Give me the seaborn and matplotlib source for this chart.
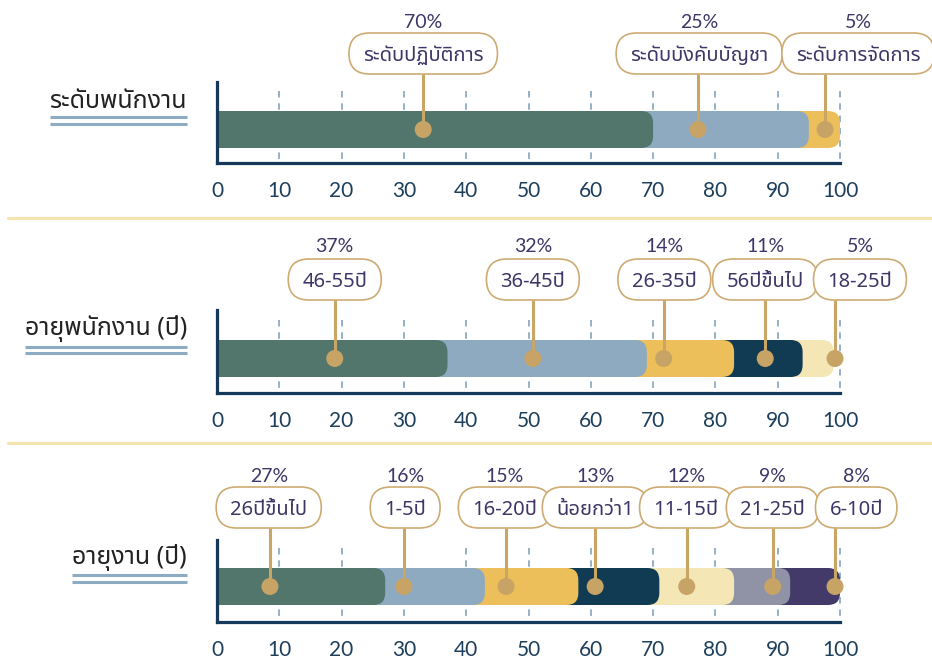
import matplotlib
matplotlib.use("Agg")
import numpy as np
import pandas as pd
import seaborn as sns
import matplotlib.pyplot as plt
from matplotlib import font_manager as fm
from matplotlib.ft2font import FT2Font
from matplotlib.patches import FancyBboxPatch
from matplotlib.lines import Line2D
from matplotlib.transforms import IdentityTransform

# ---------------- data ----------------
panel_titles = ["ระดับพนักงาน", "อายุพนักงาน (ปี)", "อายุงาน (ปี)"]

p1_labels = ["ระดับปฏิบัติการ", "ระดับบังคับบัญชา", "ระดับการจัดการ"]
p1_values = [70, 25, 5]
p1_marks = [33.1, 77.2, 97.6]
p1_label_x = [33.1, 77.4, 102.9]

p2_labels = ["46-55ปี", "36-45ปี", "26-35ปี", "56ปีขึ้นไป", "18-25ปี"]
p2_values = [37, 32, 14, 11, 5]
p2_marks = [18.9, 50.7, 71.7, 88.0, 99.2]
p2_label_x = [18.9, 50.7, 71.8, 88.0, 103.2]

p3_labels = ["26ปีขึ้นไป", "1-5ปี", "16-20ปี", "น้อยกว่า1", "11-15ปี", "21-25ปี", "6-10ปี"]
p3_values = [27, 16, 15, 13, 12, 9, 8]
p3_marks = [8.5, 30.0, 46.4, 60.7, 75.4, 89.2, 99.2]
p3_label_x = [8.3, 30.2, 46.2, 60.7, 75.3, 89.2, 102.6]

x_ticks = [0, 10, 20, 30, 40, 50, 60, 70, 80, 90, 100]

# ---------------- style ----------------
seg_colors = ["#52766c", "#8daac1", "#edbf5a", "#113a53", "#f4e6b5", "#8f93a5", "#433a69"]
TAN = "#c8a366"
NAVY = "#14395a"
GRID = "#8eabc4"
TXT = "#3d3667"

sns.set_style("white")


def find_thai():
    pref = ["Noto Sans Thai", "Noto Sans Thai Looped", "Sarabun", "Prompt", "Kanit",
            "Loma", "Garuda", "Anuphan", "IBM Plex Sans Thai"]
    found = set()
    for f in fm.fontManager.ttflist:
        try:
            cm = FT2Font(f.fname).get_charmap()
            if 0x0E01 in cm and 0x0E35 in cm:
                found.add(f.name)
        except Exception:
            pass
    for p in pref:
        if p in found:
            return p
    return sorted(found)[0] if found else None


thai = find_thai()
LAT = "Lato"
FAM = ([thai] if thai else []) + [LAT, "DejaVu Sans"]
FAM_T = ([thai] if thai else []) + ["DejaVu Sans"]
plt.rcParams["font.family"] = FAM

W, H = 932, 659
fig = plt.figure(figsize=(W / 100, H / 100), dpi=100)
fig.patch.set_facecolor("white")
ID = IdentityTransform()

AX_L, AX_R = 217, 840
panels = [
    dict(title=panel_titles[0], labels=p1_labels, values=p1_values, marks=p1_marks, lx=p1_label_x,
         top=82, bottom=163, bar_top=111, bar_bot=148, grid_top=91,
         pct_y=22, box_y=53.5, title_base=108, ul=(117, 124)),
    dict(title=panel_titles[1], labels=p2_labels, values=p2_values, marks=p2_marks, lx=p2_label_x,
         top=310, bottom=393, bar_top=340, bar_bot=377, grid_top=320,
         pct_y=247, box_y=279.5, title_base=335, ul=(347, 353)),
    dict(title=panel_titles[2], labels=p3_labels, values=p3_values, marks=p3_marks, lx=p3_label_x,
         top=540, bottom=622, bar_top=568, bar_bot=605, grid_top=548,
         pct_y=477, box_y=507.5, title_base=564, ul=(575, 582)),
]

renderer = fig.canvas.get_renderer()
BAR_W = 0.8
R_PX = 12

for P in panels:
    ax = fig.add_axes([AX_L / W, 1 - P["bottom"] / H, (AX_R - AX_L) / W, (P["bottom"] - P["top"]) / H])
    ax.set_facecolor("none")
    vals = np.array(P["values"], dtype=float)
    cum = np.cumsum(vals)
    n = len(vals)
    cols = seg_colors[:n]
    df = pd.DataFrame({"seg": P["labels"], "end": cum, "row": ["r"] * n})
    for i in range(n - 1, -1, -1):
        sns.barplot(data=df.iloc[[i]], x="end", y="row", orient="h", color=cols[i],
                    saturation=1, width=BAR_W, ax=ax, errorbar=None)
    bc = (P["bar_top"] + P["bar_bot"]) / 2
    ppu_y = (P["bar_bot"] - P["bar_top"]) / BAR_W
    ppu_x = (AX_R - AX_L) / 100.0
    ybot = (P["bottom"] - bc) / ppu_y
    ytop = -(bc - P["top"]) / ppu_y
    ax.set_xlim(0, 100)
    ax.set_ylim(ybot, ytop)
    # replace rectangles by right-rounded bars
    rects = list(ax.patches)
    r_x = R_PX / ppu_x
    aspect = ppu_x / ppu_y
    for k, p in enumerate(rects):
        x0, y0, w, h = p.get_x(), p.get_y(), p.get_width(), p.get_height()
        fc = p.get_facecolor()
        p.remove()
        fb = FancyBboxPatch((x0 - r_x, y0), w + r_x, h,
                            boxstyle=f"round,pad=0,rounding_size={r_x}",
                            mutation_aspect=aspect, fc=fc, ec="none", zorder=2 + k * 0.01)
        ax.add_patch(fb)
    gtop = -(bc - P["grid_top"]) / ppu_y
    ax.vlines(x_ticks[1:], gtop, ybot, colors=GRID, linewidth=1.3,
              linestyles=(0, (3.6, 3.2)), zorder=1, clip_on=False)
    for s in ["top", "right"]:
        ax.spines[s].set_visible(False)
    for s in ["left", "bottom"]:
        ax.spines[s].set_color(NAVY)
        ax.spines[s].set_linewidth(2.3)
        ax.spines[s].set_zorder(6)
    ax.set_xticks(x_ticks)
    ax.set_xticklabels([str(t) for t in x_ticks], fontfamily=[LAT, "DejaVu Sans"])
    ax.tick_params(axis="x", length=0, pad=13, labelsize=15, labelcolor="#1d3f5c")
    ax.set_yticks([])
    ax.set_xlabel("")
    ax.set_ylabel("")

    for m, lx, lab, v in zip(P["marks"], P["lx"], P["labels"], P["values"]):
        mx = ax.transData.transform((m, 0))[0]
        lxx = ax.transData.transform((lx, 0))[0]
        t = fig.text(lxx, H - P["box_y"], lab, transform=ID, ha="center", va="center_baseline",
                     fontsize=14.5, color=TXT, family=FAM_T, zorder=11)
        bb = t.get_window_extent(renderer)
        bw = bb.width + 28
        bh = 41
        box = FancyBboxPatch((lxx - bw / 2, H - P["box_y"] - bh / 2), bw, bh,
                             boxstyle=f"round,pad=0,rounding_size={bh/2}",
                             transform=ID, fc="white", ec="#cdab72", lw=1.2, zorder=10)
        fig.add_artist(box)
        fig.text(lxx, H - P["pct_y"], f"{v}%", transform=ID, ha="center", va="center",
                 fontsize=14, color=TXT, family=[LAT, "DejaVu Sans"], zorder=11)
        ln = Line2D([mx, mx], [H - P["box_y"] - bh / 2, H - bc], transform=ID,
                    color="#c9a566", lw=2.2, solid_capstyle="butt", zorder=4, clip_on=False)
        ax.add_line(ln)
    sns.scatterplot(x=P["marks"], y=[0] * n, ax=ax, s=150, color=TAN, edgecolor="none",
                    zorder=5, clip_on=False, legend=False)
    ax.set_xlim(0, 100)
    ax.set_ylim(ybot, ytop)
    ax.set_xlabel("")
    ax.set_ylabel("")

    # panel title with double underline
    tt = fig.text(187, H - P["title_base"], P["title"], transform=ID, ha="right", va="baseline",
                  fontsize=18, color="#222222", family=FAM_T, weight="medium")
    tb = tt.get_window_extent(renderer)
    for uy in P["ul"]:
        fig.add_artist(Line2D([tb.x0, tb.x1], [H - uy, H - uy], transform=ID,
                              color=GRID, lw=2.2, solid_capstyle="butt"))

# separators
for sy in [217.5, 443]:
    fig.add_artist(Line2D([8, W], [H - sy, H - sy], transform=ID, color="#f4e4b0", lw=2.3))

fig.savefig("out.png", dpi=100)
